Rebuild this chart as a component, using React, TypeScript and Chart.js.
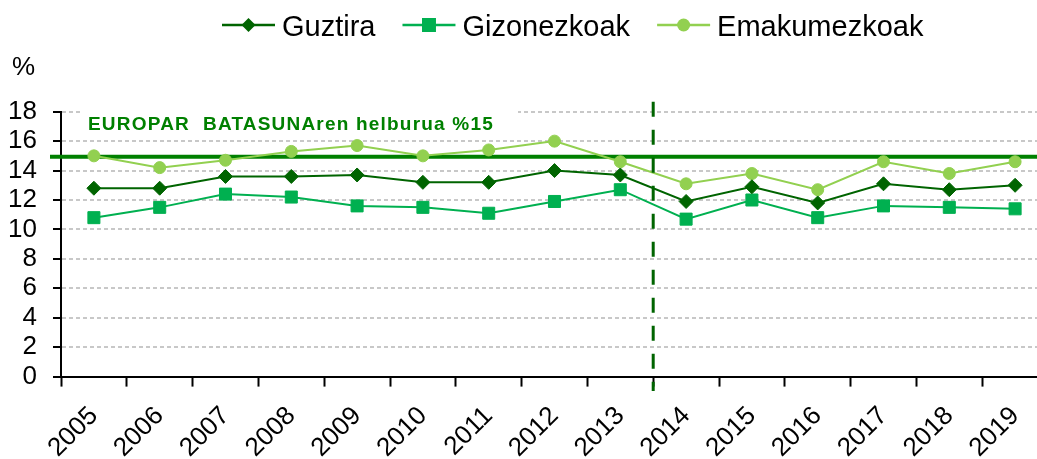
import React, { useEffect, useRef } from 'react';
import { Chart, registerables } from 'chart.js';

Chart.register(...registerables);

const years = ['2005', '2006', '2007', '2008', '2009', '2010', '2011', '2012', '2013', '2014', '2015', '2016', '2017', '2018', '2019'];
const guztira = [12.8, 12.8, 13.6, 13.6, 13.7, 13.2, 13.2, 14.0, 13.7, 11.9, 12.9, 11.8, 13.1, 12.7, 13.0];
const gizonezkoak = [10.8, 11.5, 12.4, 12.2, 11.6, 11.5, 11.1, 11.9, 12.7, 10.7, 12.0, 10.8, 11.6, 11.5, 11.4];
const emakumezkoak = [15.0, 14.2, 14.7, 15.3, 15.7, 15.0, 15.4, 16.0, 14.6, 13.1, 13.8, 12.7, 14.6, 13.8, 14.6];

const seriesNames = ['Guztira', 'Gizonezkoak', 'Emakumezkoak'];
const seriesColors = ['#006400', '#00B050', '#92D050'];
const seriesPointStyles = ['rectRot', 'rect', 'circle'];

const yMin = 0;
const yMax = 18;
const yStep = 2;
const yUnit = '%';

const targetValue = 15;
const targetLabel = 'EUROPAR  BATASUNAren helburua %15';
const breakAfterIndex = 8; // dashed separator between 2013 and 2014

const FONT = '"Liberation Sans", Arial, sans-serif';

function drawMarker(ctx: CanvasRenderingContext2D, style: string, x: number, y: number, color: string) {
  ctx.save();
  ctx.fillStyle = color;
  ctx.beginPath();
  if (style === 'rectRot') {
    const r = 7;
    ctx.moveTo(x, y - r);
    ctx.lineTo(x + r, y);
    ctx.lineTo(x, y + r);
    ctx.lineTo(x - r, y);
    ctx.closePath();
  } else if (style === 'rect') {
    const s = 7;
    ctx.rect(x - s, y - s, 2 * s, 2 * s);
  } else {
    ctx.arc(x, y, 6.5, 0, Math.PI * 2);
  }
  ctx.fill();
  ctx.restore();
}

const decorPlugin = {
  id: 'decor',
  beforeDatasetsDraw(chart: any) {
    const { ctx, scales } = chart;
    const y = scales.y;
    ctx.save();
    const yTop = y.getPixelForValue(yMax);
    ctx.fillStyle = '#ffffff';
    ctx.fillRect(80, yTop - 8, 438, 30);
    ctx.fillStyle = '#008000';
    ctx.font = 'bold 19px ' + FONT;
    (ctx as any).letterSpacing = '1.2px';
    ctx.textBaseline = 'alphabetic';
    ctx.textAlign = 'left';
    ctx.fillText(targetLabel, 88, 129.8);
    (ctx as any).letterSpacing = '0px';
    const ty = y.getPixelForValue(targetValue) + 1;
    ctx.strokeStyle = '#008000';
    ctx.lineWidth = 4;
    ctx.beginPath();
    ctx.moveTo(50, ty);
    ctx.lineTo(chart.width, ty);
    ctx.stroke();
    ctx.restore();
  },
  afterDatasetsDraw(chart: any) {
    const { ctx, scales } = chart;
    const x = scales.x;
    const px = (x.getPixelForValue(breakAfterIndex) + x.getPixelForValue(breakAfterIndex + 1)) / 2;
    ctx.save();
    ctx.strokeStyle = '#006400';
    ctx.lineWidth = 3;
    ctx.setLineDash([15, 13]);
    ctx.beginPath();
    ctx.moveTo(px, 101.7);
    ctx.lineTo(px, 391);
    ctx.stroke();
    ctx.restore();
  },
  afterDraw(chart: any) {
    const { ctx } = chart;
    ctx.save();
    ctx.fillStyle = '#000000';
    ctx.font = '26px ' + FONT;
    ctx.textBaseline = 'alphabetic';
    ctx.textAlign = 'left';
    ctx.fillText(yUnit, 12, 75);
    ctx.font = '29px ' + FONT;
    let x0 = 222;
    const ly = 25;
    for (let i = 0; i < seriesNames.length; i++) {
      ctx.strokeStyle = seriesColors[i];
      ctx.lineWidth = 2.5;
      ctx.beginPath();
      ctx.moveTo(x0, ly);
      ctx.lineTo(x0 + 53, ly);
      ctx.stroke();
      drawMarker(ctx, seriesPointStyles[i], x0 + 26.5, ly, seriesColors[i]);
      ctx.fillStyle = '#000000';
      ctx.fillText(seriesNames[i], x0 + 60, 36);
      const w = ctx.measureText(seriesNames[i]).width;
      x0 = x0 + 60 + w + 27;
    }
    ctx.restore();
  },
};

export default function App() {
  const ref = useRef<HTMLCanvasElement | null>(null);
  useEffect(() => {
    document.body.style.margin = '0';
    const canvas = ref.current;
    if (!canvas) return;
    const series = [guztira, gizonezkoak, emakumezkoak];
    const radii = [7, 8.5, 6];
    const chart = new Chart(canvas, {
      type: 'line',
      data: {
        labels: years,
        datasets: series.map((d, i) => ({
          label: seriesNames[i],
          data: d,
          borderColor: seriesColors[i],
          backgroundColor: seriesColors[i],
          pointBackgroundColor: seriesColors[i],
          pointBorderColor: seriesColors[i],
          pointBorderWidth: 1,
          pointStyle: seriesPointStyles[i] as any,
          pointRadius: radii[i],
          borderWidth: 2,
          tension: 0,
          fill: false,
        })),
      },
      options: {
        responsive: false,
        animation: false,
        devicePixelRatio: 1,
        layout: { padding: { left: 0, right: 12, top: 111.7, bottom: 0 } },
        plugins: {
          legend: { display: false },
          tooltip: { enabled: false },
        },
        scales: {
          x: {
            offset: true,
            afterFit: (s: any) => { s.height = 82.4; },
            grid: {
              offset: true,
              drawOnChartArea: false,
              drawTicks: true,
              tickLength: 10,
              tickColor: '#000000',
              tickWidth: 2,
              color: '#000000',
            },
            border: { display: true, color: '#000000', width: 2 },
            ticks: {
              autoSkip: false,
              maxRotation: 45,
              minRotation: 45,
              color: '#000000',
              font: { family: FONT, size: 26 },
              padding: 14,
            },
          },
          y: {
            min: yMin,
            max: yMax,
            afterFit: (s: any) => { s.width = 61; },
            ticks: {
              stepSize: yStep,
              autoSkip: false,
              color: '#000000',
              font: { family: FONT, size: 26 },
              padding: 16,
            },
            grid: {
              color: '#c8c8c8',
              lineWidth: 2,
              drawTicks: true,
              tickLength: 8,
              tickColor: '#000000',
              tickWidth: 2,
            },
            border: { display: true, color: '#000000', width: 2, dash: [4, 3] },
          },
        },
      },
      plugins: [decorPlugin],
    });
    return () => chart.destroy();
  }, []);
  return (
    <div style={{ position: 'fixed', left: 0, top: 0, width: 1037, height: 459, overflow: 'hidden', background: '#ffffff' }}>
      <canvas ref={ref} width={1060} height={459} style={{ display: 'block' }} />
    </div>
  );
}
